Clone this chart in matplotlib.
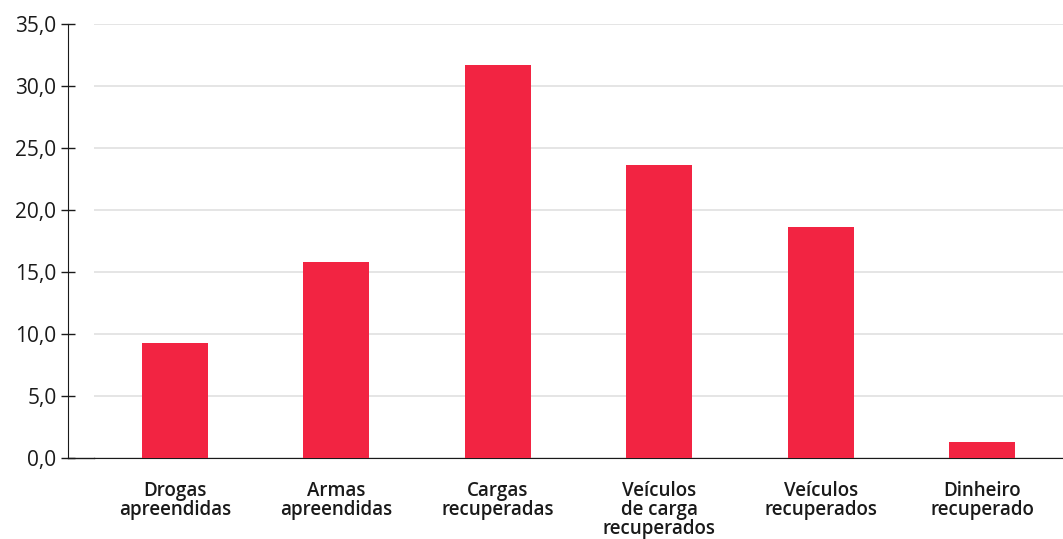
"""Bar chart: percentual por tipo de apreensão/recuperação."""
import matplotlib
matplotlib.use("Agg")
import matplotlib.pyplot as plt
from matplotlib.ticker import FuncFormatter

# ------------------------------------------------------------------------------
# Data
# ------------------------------------------------------------------------------
categories = [
    "Drogas\napreendidas",
    "Armas\napreendidas",
    "Cargas\nrecuperadas",
    "Veículos\nde carga\nrecuperados",
    "Veículos\nrecuperados",
    "Dinheiro\nrecuperado",
]
values = [9.3, 15.8, 31.7, 23.6, 18.6, 1.3]
y_ticks = [0, 5, 10, 15, 20, 25, 30, 35]

BAR_COLOR = "#F22442"
GRID_COLOR = "#E3E3E3"
INK = "#1A1A1A"

plt.rcParams["font.family"] = ["Open Sans", "DejaVu Sans"]

W, H = 1063, 539
fig = plt.figure(figsize=(W / 100, H / 100), dpi=100)
ax = fig.add_axes([94 / W, 81 / H, (W - 94) / W, 434 / H])

x = range(len(categories))
ax.bar(x, values, width=0.41, color=BAR_COLOR, zorder=3)

ax.set_xlim(-0.5, len(categories) - 0.5)
ax.set_ylim(0, 35)
ax.set_yticks(y_ticks)
ax.yaxis.set_major_formatter(FuncFormatter(lambda v, _: f"{v:.1f}".replace(".", ",")))
ax.set_xticks(list(x))
ax.set_xticklabels(categories, fontsize=13.5, fontweight="semibold", linespacing=0.95,
                   color=INK)

ax.grid(axis="y", color=GRID_COLOR, linewidth=1.3, zorder=0)
ax.set_axisbelow(True)

for side in ("top", "right"):
    ax.spines[side].set_visible(False)
ax.spines["left"].set_position(("outward", 19))
ax.spines["left"].set_color(INK)
ax.spines["bottom"].set_color(INK)
ax.tick_params(axis="y", direction="inout", length=10, width=1, color=INK,
               labelsize=15, labelcolor=INK, pad=3)
ax.tick_params(axis="x", length=0, pad=16.5)

# extend baseline left to meet the y-axis
ax.plot([-26 / (W - 94), 0], [0, 0], transform=ax.transAxes, color=INK,
        linewidth=1, clip_on=False)

fig.savefig("out.png", dpi=100)
